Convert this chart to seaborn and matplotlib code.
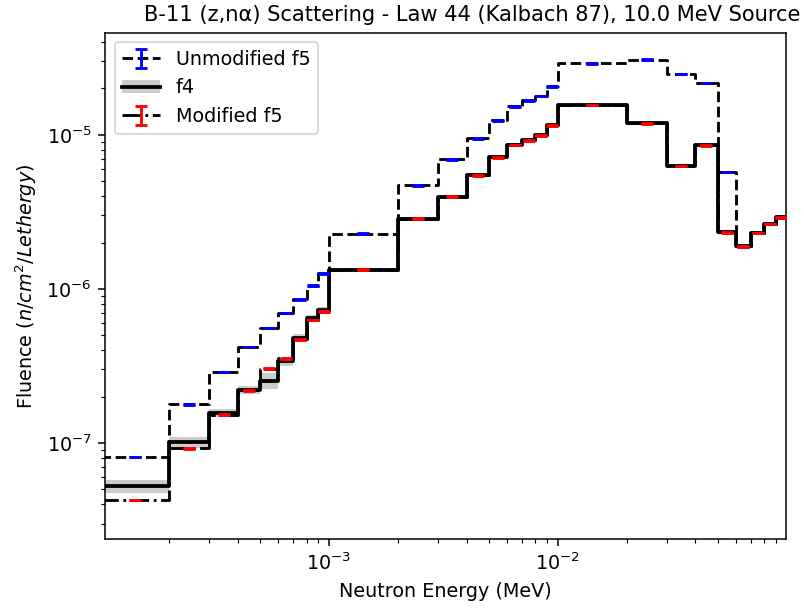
import numpy as np
import pandas as pd
import matplotlib
matplotlib.use("Agg")
import matplotlib.pyplot as plt
from matplotlib.patches import Patch
import seaborn as sns

# Energy bin edges (MeV): 1e-4 ... 0.1, nine linear bins per decade
bin_edges = [1e-4, 2e-4, 3e-4, 4e-4, 5e-4, 6e-4, 7e-4, 8e-4, 9e-4,
             1e-3, 2e-3, 3e-3, 4e-3, 5e-3, 6e-3, 7e-3, 8e-3, 9e-3,
             1e-2, 2e-2, 3e-2, 4e-2, 5e-2, 6e-2, 7e-2, 8e-2, 9e-2, 1e-1]

# Fluence per unit lethargy for each bin
unmodified_f5 = [8.1e-8, 1.78e-7, 2.89e-7, 4.19e-7, 5.57e-7, 6.98e-7, 8.57e-7, 1.05e-6, 1.26e-6,
                 2.28e-6, 4.69e-6, 6.92e-6, 9.48e-6, 1.24e-5, 1.53e-5, 1.67e-5, 1.79e-5, 2.06e-5,
                 2.91e-5, 3.07e-5, 2.48e-5, 2.17e-5, 5.75e-6, 1.89e-6, 2.31e-6, 2.64e-6, 2.91e-6]
f4 = [5.25e-8, 1.01e-7, 1.56e-7, 2.20e-7, 2.53e-7, 3.40e-7, 4.78e-7, 6.44e-7, 7.30e-7,
      1.33e-6, 2.86e-6, 3.97e-6, 5.45e-6, 7.13e-6, 8.60e-6, 9.20e-6, 9.90e-6, 1.15e-5,
      1.56e-5, 1.19e-5, 6.27e-6, 8.55e-6, 2.33e-6, 1.89e-6, 2.31e-6, 2.64e-6, 2.91e-6]
modified_f5 = [4.26e-8, 9.25e-8, 1.53e-7, 2.20e-7, 3.04e-7, 3.55e-7, 4.70e-7, 6.28e-7, 7.10e-7,
               1.33e-6, 2.86e-6, 3.97e-6, 5.45e-6, 7.13e-6, 8.60e-6, 9.20e-6, 9.90e-6, 1.15e-5,
               1.56e-5, 1.19e-5, 6.27e-6, 8.55e-6, 2.33e-6, 1.89e-6, 2.31e-6, 2.64e-6, 2.91e-6]

# Relative statistical uncertainties
f4_rel_err = [0.10, 0.08, 0.06, 0.06, 0.12, 0.07, 0.06, 0.05, 0.05,
              0.03, 0.03, 0.03, 0.03, 0.03, 0.03, 0.03, 0.03, 0.03,
              0.02, 0.02, 0.02, 0.02, 0.03, 0.03, 0.03, 0.03, 0.03]
f5_rel_err = 0.005

edges = np.array(bin_edges)
centers = np.sqrt(edges[:-1] * edges[1:])
u5 = np.array(unmodified_f5)
t4 = np.array(f4)
m5 = np.array(modified_f5)
e4 = np.array(f4_rel_err)


def stepped(vals):
    return np.append(vals, vals[-1])


DPI = 137.3
fig = plt.figure(figsize=(804 / DPI, 609 / DPI), dpi=DPI)
ax = fig.add_axes([105 / 804, 1 - 539.3 / 609, (786 - 105) / 804, (539.3 - 32.7) / 609])

# Unmodified F5 tally: dashed histogram with blue error bars
df_u = pd.DataFrame({"E": edges, "flux": stepped(u5)})
sns.lineplot(data=df_u, x="E", y="flux", ax=ax, estimator=None, sort=False,
             drawstyle="steps-post", color="k", linestyle="--", lw=1.5, legend=False)
line_u = ax.lines[-1]
eb_u = ax.errorbar(centers, u5, yerr=u5 * f5_rel_err, fmt="none", ecolor="b",
                   elinewidth=1.5, capsize=3, capthick=1.5, zorder=3)

# F4 tally: solid histogram with shaded uncertainty band
band = ax.fill_between(edges, stepped(t4 * (1 - e4)), stepped(t4 * (1 + e4)),
                       step="post", color="k", alpha=0.2, lw=0)
df_t = pd.DataFrame({"E": edges, "flux": stepped(t4)})
sns.lineplot(data=df_t, x="E", y="flux", ax=ax, estimator=None, sort=False,
             drawstyle="steps-post", color="k", linestyle="-", lw=2, legend=False)
line_t = ax.lines[-1]

# Modified F5 tally: dash-dot histogram with red error bars
df_m = pd.DataFrame({"E": edges, "flux": stepped(m5)})
sns.lineplot(data=df_m, x="E", y="flux", ax=ax, estimator=None, sort=False,
             drawstyle="steps-post", color="k", linestyle="-.", lw=1.5, legend=False)
line_m = ax.lines[-1]
eb_m = ax.errorbar(centers, m5, yerr=m5 * f5_rel_err, fmt="none", ecolor="r",
                   elinewidth=1.5, capsize=3, capthick=1.5, zorder=3)

ax.set_xscale("log")
ax.set_yscale("log")
ax.set_xlim(1.05e-4, 0.0996)
ax.set_ylim(2.37e-8, 4.6e-5)

ax.set_xlabel("Neutron Energy (MeV)")
ax.set_ylabel(r"Fluence ($n/cm^2/Lethergy$)")
ax.set_title("B-11 (z,nα) Scattering - Law 44 (Kalbach 87), 10.0 MeV Source",
             fontsize=11, x=0.539)

band_patch = Patch(facecolor="k", alpha=0.2, lw=0)
ax.legend([(line_u, eb_u), (band_patch, line_t), (line_m, eb_m)],
          ["Unmodified f5", "f4", "Modified f5"], loc="upper left")

fig.savefig("out.png", dpi=DPI)
